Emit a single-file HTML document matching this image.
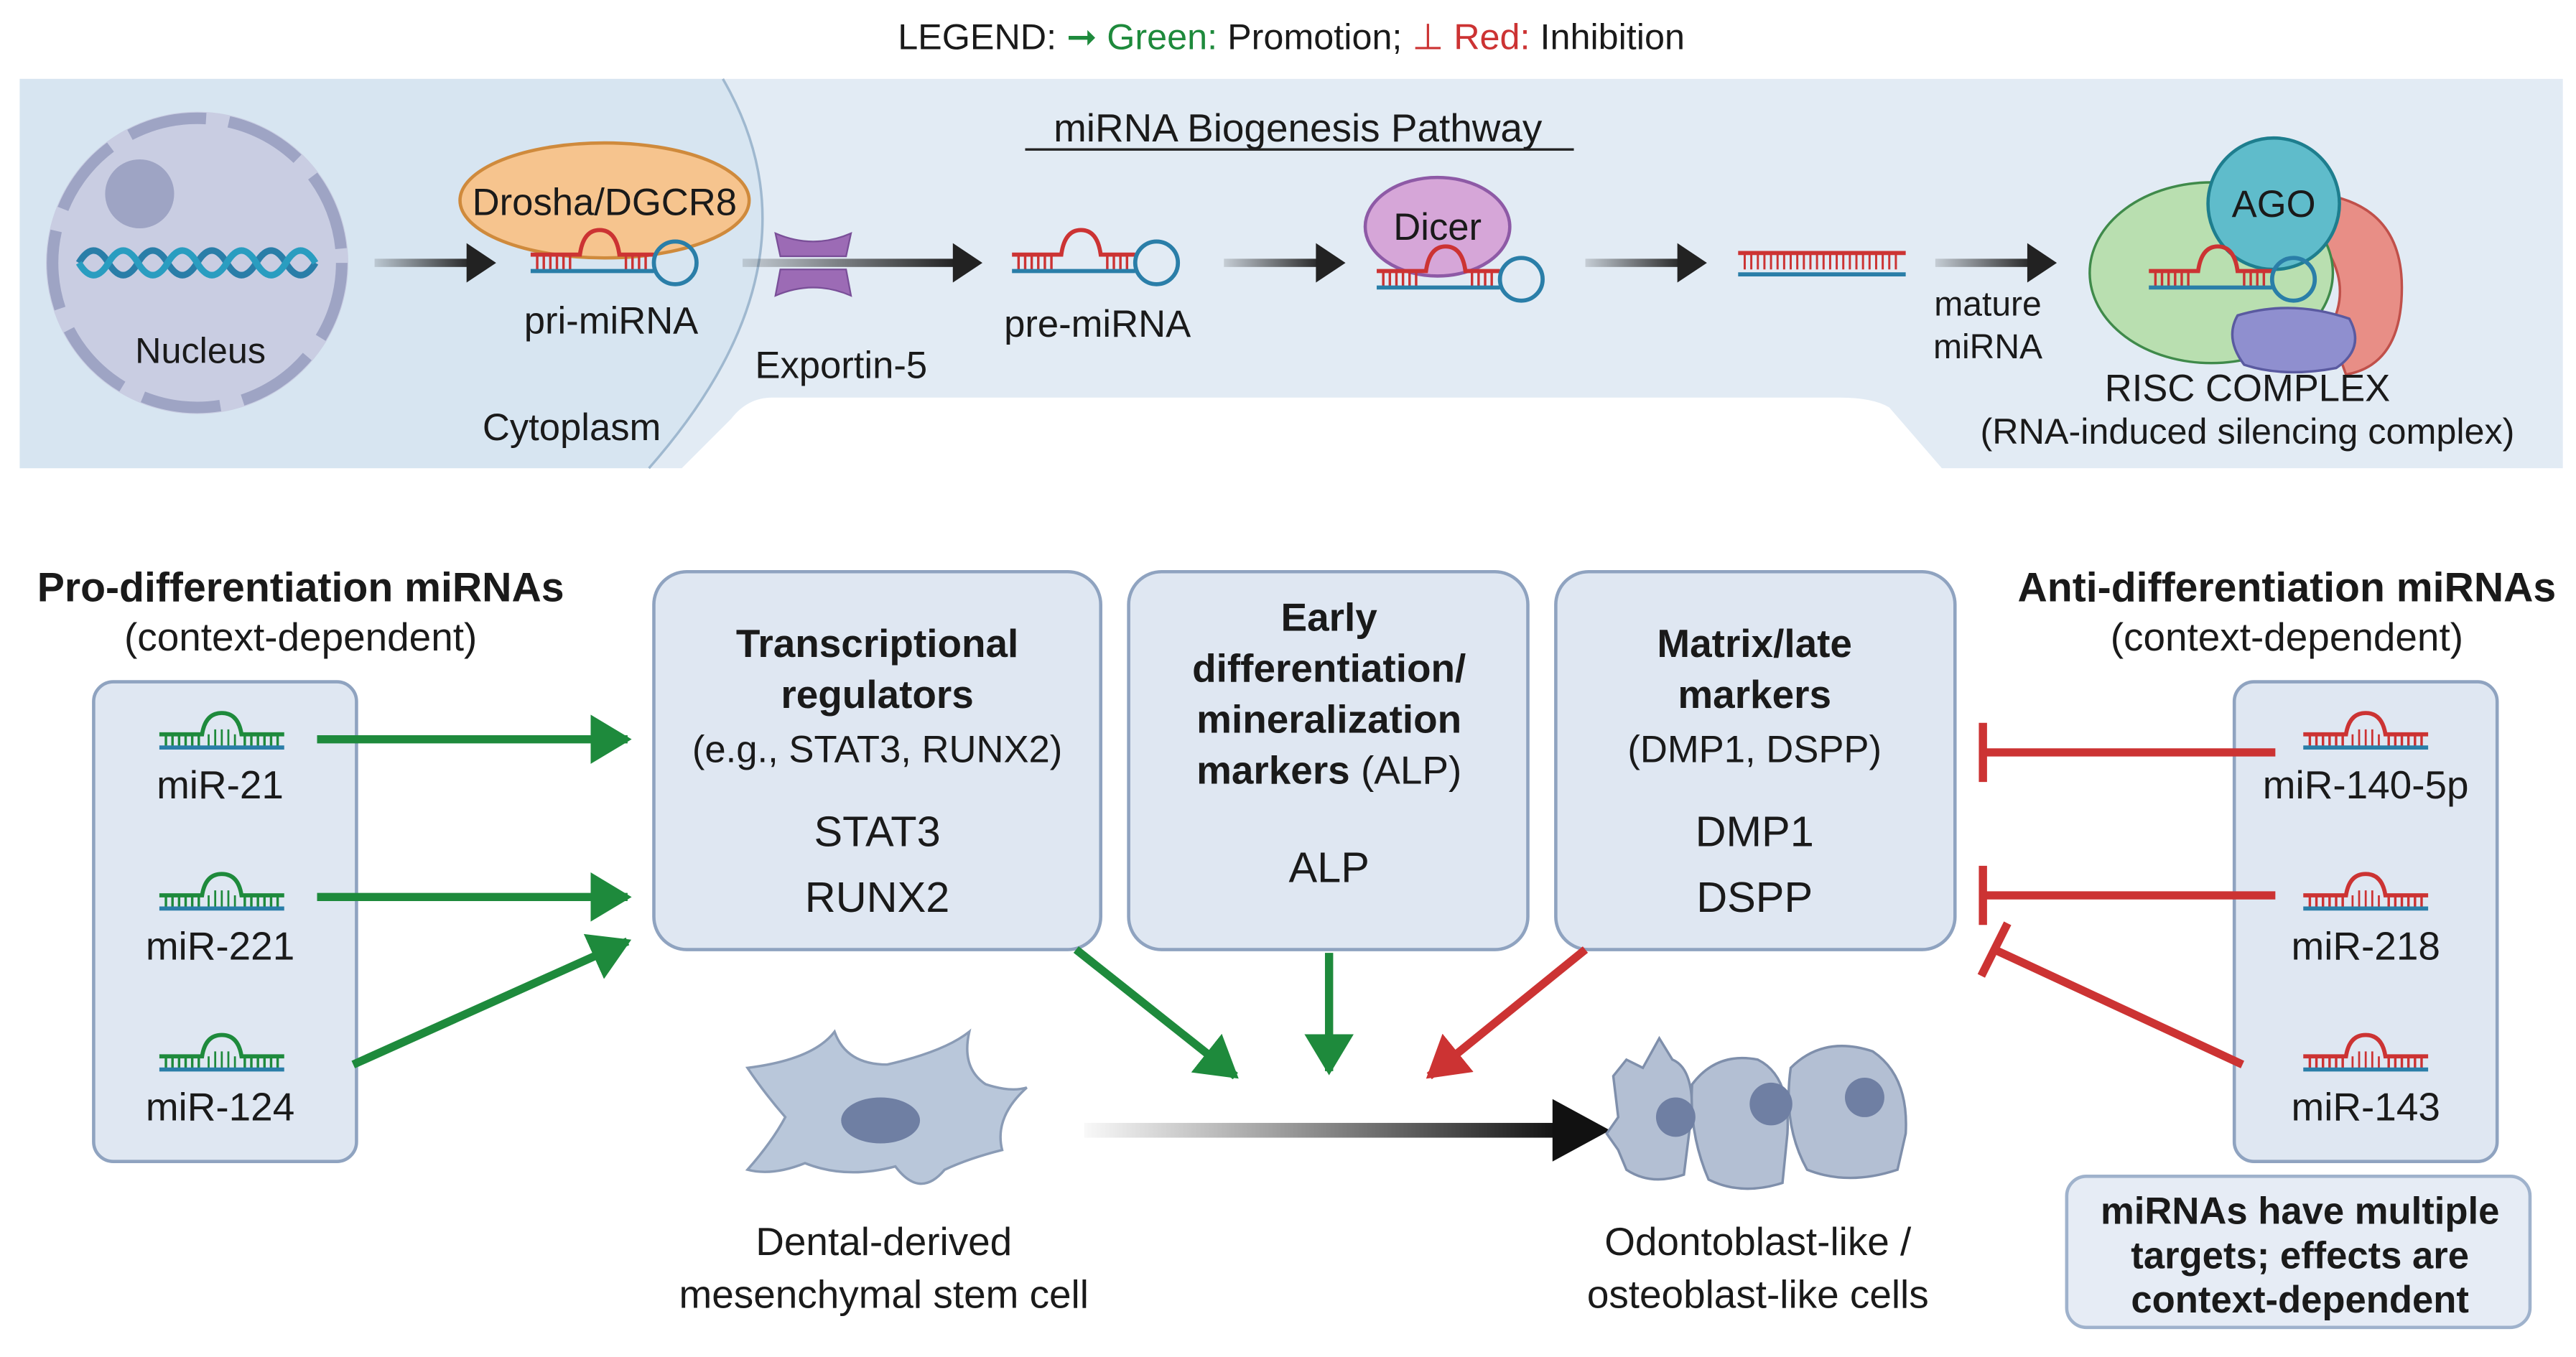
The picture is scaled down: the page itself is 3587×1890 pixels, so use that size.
<!DOCTYPE html>
<html><head><meta charset="utf-8"><style>
html,body{margin:0;padding:0;background:#fff;}
svg{display:block;}
text{font-family:"Liberation Sans",sans-serif;fill:#1a1a1a;}
</style></head><body>
<svg width="3587" height="1890" viewBox="0 0 1568 826" preserveAspectRatio="none" xmlns="http://www.w3.org/2000/svg">
<defs>
<marker id="ag" markerWidth="6" markerHeight="6" refX="4.5" refY="3" orient="auto" markerUnits="strokeWidth"><path d="M0,0 L5,3 L0,6 z" fill="#1e8a3c"/></marker>
<marker id="ar" markerWidth="6" markerHeight="6" refX="4.5" refY="3" orient="auto" markerUnits="strokeWidth"><path d="M0,0 L5,3 L0,6 z" fill="#cc3333"/></marker>
<linearGradient id="blk" gradientUnits="userSpaceOnUse" x1="660" y1="0" x2="950" y2="0"><stop offset="0" stop-color="#222" stop-opacity="0.03"/><stop offset="1" stop-color="#111"/></linearGradient>
<linearGradient id="arr" x1="0" y1="0" x2="1" y2="0"><stop offset="0" stop-color="#222" stop-opacity="0.15"/><stop offset="1" stop-color="#222"/></linearGradient>
<g id="gmi">
<path d="M-38,-3 H-12 Q-10,-16 0,-16 Q10,-16 12,-3 H38" fill="none" stroke="#1e8a3c" stroke-width="2.5"/>
<path d="M-34,-3 V4 M-30,-3 V4 M-26,-3 V4 M-22,-3 V4 M-18,-3 V4 M-14,-3 V4 M14,-3 V4 M18,-3 V4 M22,-3 V4 M26,-3 V4 M30,-3 V4 M34,-3 V4" stroke="#1e8a3c" stroke-width="1.5"/>
<path d="M-8,-3 V4 M-4,-6 V4 M0,-6 V4 M4,-6 V4 M8,-3 V4" stroke="#1e8a3c" stroke-width="1.2"/>
<path d="M-38,5 H38" stroke="#2a7ea8" stroke-width="2.5"/>
</g>
<g id="rmi">
<path d="M-38,-3 H-12 Q-10,-16 0,-16 Q10,-16 12,-3 H38" fill="none" stroke="#cc3333" stroke-width="2.5"/>
<path d="M-34,-3 V4 M-30,-3 V4 M-26,-3 V4 M-22,-3 V4 M-18,-3 V4 M-14,-3 V4 M14,-3 V4 M18,-3 V4 M22,-3 V4 M26,-3 V4 M30,-3 V4 M34,-3 V4" stroke="#cc3333" stroke-width="1.5"/>
<path d="M-8,-3 V4 M-4,-6 V4 M0,-6 V4 M4,-6 V4 M8,-3 V4" stroke="#cc3333" stroke-width="1.2"/>
<path d="M-38,5 H38" stroke="#2a7ea8" stroke-width="2.5"/>
</g>
<g id="hp">
<path d="M0,-5 H30 Q32,-20 42,-20 Q52,-20 54,-5 H75" fill="none" stroke="#cc3333" stroke-width="2.5"/>
<path d="M4,-5 V4 M8,-5 V4 M12,-5 V4 M16,-5 V4 M20,-5 V4 M24,-5 V4 M58,-5 V4 M62,-5 V4 M66,-5 V4 M70,-5 V4" stroke="#cc3333" stroke-width="1.5"/>
<path d="M0,5 H75" stroke="#2a7ea8" stroke-width="2.5"/>
<circle cx="88" cy="0" r="13" fill="none" stroke="#2a7ea8" stroke-width="2.5"/>
</g>
<g id="ba">
<rect x="0" y="-2.5" width="60" height="5" fill="url(#arr)"/>
<path d="M56,-12 L74,0 L56,12 Z" fill="#222"/>
</g>
</defs>

<!-- legend -->
<text x="786" y="30" font-size="22" text-anchor="middle">LEGEND: <tspan fill="#1e8a3c">➞ Green:</tspan> Promotion; <tspan fill="#cc3333">⊥ Red:</tspan> Inhibition</text>

<!-- top panel -->
<path d="M12,48 H1560 V285 H1182 L1150,248 Q1140,242 1120,242 H470 Q455,242 445,255 L415,285 H12 Z" fill="#e2ebf4"/>
<path d="M12,48 H440 Q505,160 395,285 H12 Z" fill="#d7e5f1"/>
<path d="M440,48 Q505,160 395,285" fill="none" stroke="#9fb8cf" stroke-width="1.5"/>

<!-- nucleus -->
<circle cx="120" cy="160" r="92" fill="#c9cde2"/>
<circle cx="120" cy="160" r="88" fill="none" stroke="#9ea4c4" stroke-width="7" stroke-dasharray="48 14"/>
<circle cx="85" cy="118" r="21" fill="#9ea4c4"/>
<path d="M48,160 Q57,145 66,160 T84,160 T102,160 T120,160 T138,160 T156,160 T174,160 T192,160" fill="none" stroke="#2a7ea8" stroke-width="4"/>
<path d="M48,160 Q57,175 66,160 T84,160 T102,160 T120,160 T138,160 T156,160 T174,160 T192,160" fill="none" stroke="#2a9dc0" stroke-width="4"/>
<text x="122" y="221" font-size="22" text-anchor="middle">Nucleus</text>

<use href="#ba" x="228" y="160"/>
<ellipse cx="368" cy="122" rx="88" ry="35" fill="#f6c48e" stroke="#cf8a3c" stroke-width="2"/>
<text x="368" y="131" font-size="23" text-anchor="middle">Drosha/DGCR8</text>
<use href="#hp" x="323" y="160"/>
<text x="372" y="203" font-size="23" text-anchor="middle">pri-miRNA</text>

<rect x="452" y="157.5" width="130" height="5" fill="url(#arr)"/>
<path d="M580,148 L598,160 L580,172 Z" fill="#222"/>
<path d="M472,142 Q495,152 518,142 L515,156 H475 Z M475,164 H515 L518,180 Q495,170 472,180 Z" fill="#9c6bb5" stroke="#7a4f98" stroke-width="1"/>
<text x="512" y="230" font-size="23" text-anchor="middle">Exportin-5</text>
<text x="348" y="268" font-size="23" text-anchor="middle">Cytoplasm</text>

<text x="790" y="86" font-size="24" text-anchor="middle">miRNA Biogenesis Pathway</text>
<line x1="624" y1="91" x2="958" y2="91" stroke="#222" stroke-width="1.5"/>

<use href="#hp" x="616" y="160"/>
<text x="668" y="205" font-size="23" text-anchor="middle">pre-miRNA</text>
<use href="#ba" x="745" y="160"/>

<ellipse cx="875" cy="138" rx="44" ry="30" fill="#d6a6d8" stroke="#8e5aa6" stroke-width="2"/>
<text x="875" y="146" font-size="23" text-anchor="middle">Dicer</text>
<use href="#hp" x="838" y="170"/>
<use href="#ba" x="965" y="160"/>
<path d="M1058,154 H1160" stroke="#cc3333" stroke-width="2.5"/>
<path d="M1062,154 V164 M1066,154 V164 M1070,154 V164 M1074,154 V164 M1078,154 V164 M1082,154 V164 M1086,154 V164 M1090,154 V164 M1094,154 V164 M1098,154 V164 M1102,154 V164 M1106,154 V164 M1110,154 V164 M1114,154 V164 M1118,154 V164 M1122,154 V164 M1126,154 V164 M1130,154 V164 M1134,154 V164 M1138,154 V164 M1142,154 V164 M1146,154 V164 M1150,154 V164 M1154,154 V164" stroke="#cc3333" stroke-width="1.3"/>
<path d="M1058,167 H1160" stroke="#2a7ea8" stroke-width="2.5"/>
<use href="#ba" x="1178" y="160"/>
<text x="1210" y="192" font-size="21" text-anchor="middle">mature</text>
<text x="1210" y="218" font-size="21" text-anchor="middle">miRNA</text>

<!-- RISC -->
<path d="M1412,118 Q1462,125 1462,175 Q1462,222 1428,228 L1418,200 Q1432,175 1415,150 Z" fill="#e88e86" stroke="#c0504a" stroke-width="1.5"/>
<ellipse cx="1346" cy="166" rx="74" ry="55" fill="#b9dfb0" stroke="#3f8a4a" stroke-width="1.5"/>
<circle cx="1384" cy="124" r="40" fill="#5fbccb" stroke="#1e7e8e" stroke-width="2"/>
<text x="1384" y="132" font-size="23" text-anchor="middle">AGO</text>
<path d="M1362,192 Q1395,182 1430,194 Q1440,212 1422,224 Q1390,230 1366,222 Q1354,206 1362,192 Z" fill="#8f8fcf" stroke="#5a5aa0" stroke-width="1.5"/>
<use href="#hp" x="1308" y="170"/>
<text x="1368" y="244" font-size="23" text-anchor="middle">RISC COMPLEX</text>
<text x="1368" y="270" font-size="22" text-anchor="middle">(RNA-induced silencing complex)</text>

<!-- left side -->
<text x="183" y="366" font-size="25" font-weight="bold" text-anchor="middle">Pro-differentiation miRNAs</text>
<text x="183" y="396" font-size="24" text-anchor="middle">(context-dependent)</text>
<rect x="57" y="415" width="160" height="292" rx="12" fill="#dfe7f2" stroke="#8fa3c0" stroke-width="2"/>
<use href="#gmi" x="135" y="450"/>
<text x="134" y="486" font-size="24" text-anchor="middle">miR-21</text>
<use href="#gmi" x="135" y="548"/>
<text x="134" y="584" font-size="24" text-anchor="middle">miR-221</text>
<use href="#gmi" x="135" y="646"/>
<text x="134" y="682" font-size="24" text-anchor="middle">miR-124</text>

<g stroke="#1e8a3c" stroke-width="5" fill="none">
<line x1="193" y1="450" x2="382" y2="450" marker-end="url(#ag)"/>
<line x1="193" y1="546" x2="382" y2="546" marker-end="url(#ag)"/>
<line x1="215" y1="648" x2="382" y2="573" marker-end="url(#ag)"/>
</g>

<!-- boxes -->
<rect x="398" y="348" width="272" height="230" rx="20" fill="#dfe7f2" stroke="#8fa3c0" stroke-width="2"/>
<text x="534" y="400" font-size="24" font-weight="bold" text-anchor="middle">Transcriptional</text>
<text x="534" y="431" font-size="24" font-weight="bold" text-anchor="middle">regulators</text>
<text x="534" y="464" font-size="23" text-anchor="middle">(e.g., STAT3, RUNX2)</text>
<text x="534" y="515" font-size="26" text-anchor="middle">STAT3</text>
<text x="534" y="555" font-size="26" text-anchor="middle">RUNX2</text>

<rect x="687" y="348" width="243" height="230" rx="20" fill="#dfe7f2" stroke="#8fa3c0" stroke-width="2"/>
<text x="809" y="384" font-size="24" font-weight="bold" text-anchor="middle">Early</text>
<text x="809" y="415" font-size="24" font-weight="bold" text-anchor="middle">differentiation/</text>
<text x="809" y="446" font-size="24" font-weight="bold" text-anchor="middle">mineralization</text>
<text x="809" y="477" font-size="24" text-anchor="middle"><tspan font-weight="bold">markers</tspan> (ALP)</text>
<text x="809" y="537" font-size="26" text-anchor="middle">ALP</text>

<rect x="947" y="348" width="243" height="230" rx="20" fill="#dfe7f2" stroke="#8fa3c0" stroke-width="2"/>
<text x="1068" y="400" font-size="24" font-weight="bold" text-anchor="middle">Matrix/late</text>
<text x="1068" y="431" font-size="24" font-weight="bold" text-anchor="middle">markers</text>
<text x="1068" y="464" font-size="23" text-anchor="middle">(DMP1, DSPP)</text>
<text x="1068" y="515" font-size="26" text-anchor="middle">DMP1</text>
<text x="1068" y="555" font-size="26" text-anchor="middle">DSPP</text>

<g stroke-width="5" fill="none">
<line x1="655" y1="578" x2="752" y2="655" stroke="#1e8a3c" marker-end="url(#ag)"/>
<line x1="809" y1="580" x2="809" y2="652" stroke="#1e8a3c" marker-end="url(#ag)"/>
<line x1="965" y1="578" x2="870" y2="655" stroke="#cc3333" marker-end="url(#ar)"/>
</g>

<!-- stem cell -->
<path d="M455,650 Q495,645 508,628 Q515,648 540,648 Q575,640 590,628 Q585,650 600,660 Q615,665 625,662 Q605,680 610,700 Q590,705 575,712 Q560,730 545,710 Q515,718 490,708 Q470,716 455,712 Q470,695 478,680 Q465,665 455,650 Z" fill="#b9c7da" stroke="#8a9bb5" stroke-width="1.5"/>
<ellipse cx="536" cy="682" rx="24" ry="14" fill="#6f7fa3"/>
<text x="538" y="764" font-size="24" text-anchor="middle">Dental-derived</text>
<text x="538" y="796" font-size="24" text-anchor="middle">mesenchymal stem cell</text>

<rect x="660" y="683.5" width="292" height="9" fill="url(#blk)"/>
<path d="M945,669 L980,688 L945,707 Z" fill="#111"/>

<!-- odontoblasts -->
<g fill="#b3bfd3" stroke="#7f8fab" stroke-width="1.5">
<path d="M982,655 L990,645 L1000,650 L1010,632 L1018,645 Q1030,650 1030,675 L1025,715 Q1005,722 990,712 L985,700 L978,690 L985,680 Z"/>
<path d="M1030,660 Q1045,640 1070,645 Q1090,655 1088,690 L1085,720 Q1060,728 1040,718 Q1028,690 1030,660 Z"/>
<path d="M1090,650 Q1110,630 1140,640 Q1162,655 1160,690 L1155,712 Q1125,722 1100,712 Q1085,685 1090,650 Z"/>
</g>
<g fill="#6f7fa3"><circle cx="1020" cy="680" r="12"/><circle cx="1078" cy="672" r="13"/><circle cx="1135" cy="668" r="12"/></g>
<text x="1070" y="764" font-size="24" text-anchor="middle">Odontoblast-like /</text>
<text x="1070" y="796" font-size="24" text-anchor="middle">osteoblast-like cells</text>

<!-- right side -->
<text x="1392" y="366" font-size="25" font-weight="bold" text-anchor="middle">Anti-differentiation miRNAs</text>
<text x="1392" y="396" font-size="24" text-anchor="middle">(context-dependent)</text>
<rect x="1360" y="415" width="160" height="292" rx="12" fill="#dfe7f2" stroke="#8fa3c0" stroke-width="2"/>
<use href="#rmi" x="1440" y="450"/>
<text x="1440" y="486" font-size="24" text-anchor="middle">miR-140-5p</text>
<use href="#rmi" x="1440" y="548"/>
<text x="1440" y="584" font-size="24" text-anchor="middle">miR-218</text>
<use href="#rmi" x="1440" y="646"/>
<text x="1440" y="682" font-size="24" text-anchor="middle">miR-143</text>

<g stroke="#cc3333" stroke-width="5" fill="none">
<line x1="1385" y1="458" x2="1207" y2="458"/>
<line x1="1207" y1="440" x2="1207" y2="476"/>
<line x1="1385" y1="545" x2="1207" y2="545"/>
<line x1="1207" y1="527" x2="1207" y2="563"/>
<line x1="1365" y1="648" x2="1214" y2="578"/>
<line x1="1206" y1="594" x2="1222" y2="562"/>
</g>

<rect x="1258" y="716" width="282" height="92" rx="12" fill="#e6ecf5" stroke="#9fb2cc" stroke-width="2"/>
<text x="1400" y="745" font-size="23" font-weight="bold" text-anchor="middle">miRNAs have multiple</text>
<text x="1400" y="772" font-size="23" font-weight="bold" text-anchor="middle">targets; effects are</text>
<text x="1400" y="799" font-size="23" font-weight="bold" text-anchor="middle">context-dependent</text>
</svg>
</body></html>
